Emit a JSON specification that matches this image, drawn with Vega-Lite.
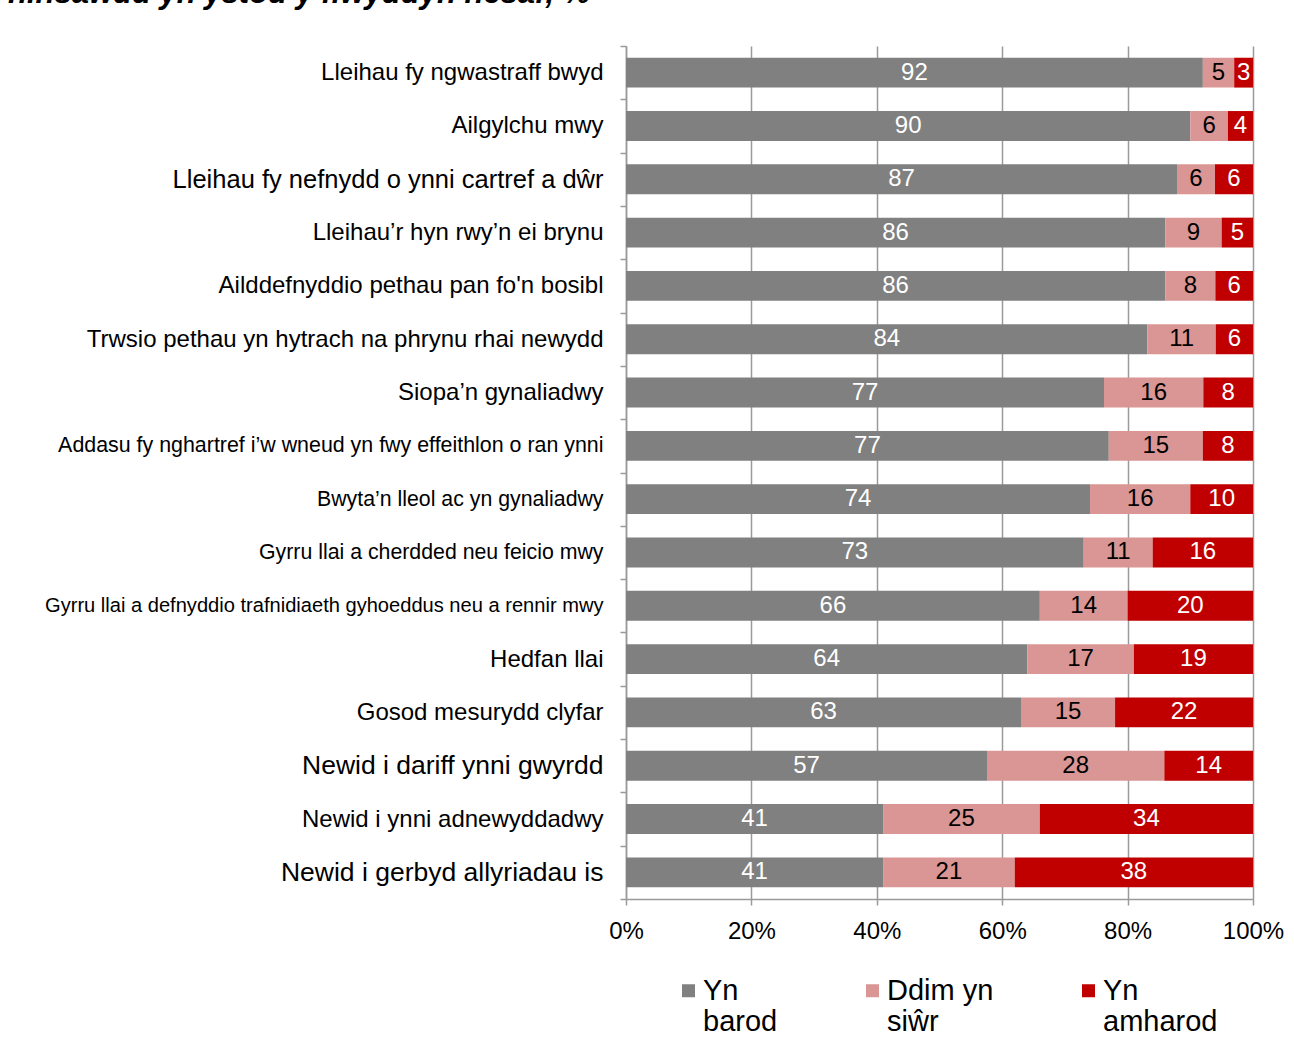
{
  "$schema": "https://vega.github.io/schema/vega-lite/v6.json",
  "width": 627,
  "height": 853,
  "autosize": {"type": "none"},
  "padding": {"left": 626, "top": 46, "right": 41, "bottom": 155},
  "background": "white",
  "title": {
    "text": "hinsawdd yn ystod y flwyddyn nesaf, %",
    "anchor": "start",
    "frame": "group",
    "dx": -618,
    "offset": 0,
    "baseline": "alphabetic",
    "fontSize": 31,
    "fontStyle": "italic",
    "fontWeight": "bold",
    "font": "Liberation Sans",
    "color": "black"
  },
  "config": {
    "font": "Liberation Sans",
    "view": {"stroke": null}
  },
  "data": {
    "values": [
      {"item": "Lleihau fy ngwastraff bwyd", "resp": "Yn barod", "k": 1, "v": 92},
      {"item": "Lleihau fy ngwastraff bwyd", "resp": "Ddim yn siŵr", "k": 2, "v": 5},
      {"item": "Lleihau fy ngwastraff bwyd", "resp": "Yn amharod", "k": 3, "v": 3},
      {"item": "Ailgylchu mwy", "resp": "Yn barod", "k": 1, "v": 90},
      {"item": "Ailgylchu mwy", "resp": "Ddim yn siŵr", "k": 2, "v": 6},
      {"item": "Ailgylchu mwy", "resp": "Yn amharod", "k": 3, "v": 4},
      {"item": "Lleihau fy nefnydd o ynni cartref a dŵr", "resp": "Yn barod", "k": 1, "v": 87},
      {"item": "Lleihau fy nefnydd o ynni cartref a dŵr", "resp": "Ddim yn siŵr", "k": 2, "v": 6},
      {"item": "Lleihau fy nefnydd o ynni cartref a dŵr", "resp": "Yn amharod", "k": 3, "v": 6},
      {"item": "Lleihau’r hyn rwy’n ei brynu", "resp": "Yn barod", "k": 1, "v": 86},
      {"item": "Lleihau’r hyn rwy’n ei brynu", "resp": "Ddim yn siŵr", "k": 2, "v": 9},
      {"item": "Lleihau’r hyn rwy’n ei brynu", "resp": "Yn amharod", "k": 3, "v": 5},
      {"item": "Ailddefnyddio pethau pan fo'n bosibl", "resp": "Yn barod", "k": 1, "v": 86},
      {"item": "Ailddefnyddio pethau pan fo'n bosibl", "resp": "Ddim yn siŵr", "k": 2, "v": 8},
      {"item": "Ailddefnyddio pethau pan fo'n bosibl", "resp": "Yn amharod", "k": 3, "v": 6},
      {"item": "Trwsio pethau yn hytrach na phrynu rhai newydd", "resp": "Yn barod", "k": 1, "v": 84},
      {"item": "Trwsio pethau yn hytrach na phrynu rhai newydd", "resp": "Ddim yn siŵr", "k": 2, "v": 11},
      {"item": "Trwsio pethau yn hytrach na phrynu rhai newydd", "resp": "Yn amharod", "k": 3, "v": 6},
      {"item": "Siopa’n gynaliadwy", "resp": "Yn barod", "k": 1, "v": 77},
      {"item": "Siopa’n gynaliadwy", "resp": "Ddim yn siŵr", "k": 2, "v": 16},
      {"item": "Siopa’n gynaliadwy", "resp": "Yn amharod", "k": 3, "v": 8},
      {"item": "Addasu fy nghartref i’w wneud yn fwy effeithlon o ran ynni", "resp": "Yn barod", "k": 1, "v": 77},
      {"item": "Addasu fy nghartref i’w wneud yn fwy effeithlon o ran ynni", "resp": "Ddim yn siŵr", "k": 2, "v": 15},
      {"item": "Addasu fy nghartref i’w wneud yn fwy effeithlon o ran ynni", "resp": "Yn amharod", "k": 3, "v": 8},
      {"item": "Bwyta’n lleol ac yn gynaliadwy", "resp": "Yn barod", "k": 1, "v": 74},
      {"item": "Bwyta’n lleol ac yn gynaliadwy", "resp": "Ddim yn siŵr", "k": 2, "v": 16},
      {"item": "Bwyta’n lleol ac yn gynaliadwy", "resp": "Yn amharod", "k": 3, "v": 10},
      {"item": "Gyrru llai a cherdded neu feicio mwy", "resp": "Yn barod", "k": 1, "v": 73},
      {"item": "Gyrru llai a cherdded neu feicio mwy", "resp": "Ddim yn siŵr", "k": 2, "v": 11},
      {"item": "Gyrru llai a cherdded neu feicio mwy", "resp": "Yn amharod", "k": 3, "v": 16},
      {"item": "Gyrru llai a defnyddio trafnidiaeth gyhoeddus neu a rennir mwy", "resp": "Yn barod", "k": 1, "v": 66},
      {"item": "Gyrru llai a defnyddio trafnidiaeth gyhoeddus neu a rennir mwy", "resp": "Ddim yn siŵr", "k": 2, "v": 14},
      {"item": "Gyrru llai a defnyddio trafnidiaeth gyhoeddus neu a rennir mwy", "resp": "Yn amharod", "k": 3, "v": 20},
      {"item": "Hedfan llai", "resp": "Yn barod", "k": 1, "v": 64},
      {"item": "Hedfan llai", "resp": "Ddim yn siŵr", "k": 2, "v": 17},
      {"item": "Hedfan llai", "resp": "Yn amharod", "k": 3, "v": 19},
      {"item": "Gosod mesurydd clyfar", "resp": "Yn barod", "k": 1, "v": 63},
      {"item": "Gosod mesurydd clyfar", "resp": "Ddim yn siŵr", "k": 2, "v": 15},
      {"item": "Gosod mesurydd clyfar", "resp": "Yn amharod", "k": 3, "v": 22},
      {"item": "Newid i dariff ynni gwyrdd", "resp": "Yn barod", "k": 1, "v": 57},
      {"item": "Newid i dariff ynni gwyrdd", "resp": "Ddim yn siŵr", "k": 2, "v": 28},
      {"item": "Newid i dariff ynni gwyrdd", "resp": "Yn amharod", "k": 3, "v": 14},
      {"item": "Newid i ynni adnewyddadwy", "resp": "Yn barod", "k": 1, "v": 41},
      {"item": "Newid i ynni adnewyddadwy", "resp": "Ddim yn siŵr", "k": 2, "v": 25},
      {"item": "Newid i ynni adnewyddadwy", "resp": "Yn amharod", "k": 3, "v": 34},
      {"item": "Newid i gerbyd allyriadau is", "resp": "Yn barod", "k": 1, "v": 41},
      {"item": "Newid i gerbyd allyriadau is", "resp": "Ddim yn siŵr", "k": 2, "v": 21},
      {"item": "Newid i gerbyd allyriadau is", "resp": "Yn amharod", "k": 3, "v": 38}
    ]
  },
  "encoding": {
    "y": {
      "field": "item",
      "type": "nominal",
      "sort": null,
      "scale": {"paddingInner": 0, "paddingOuter": 0},
      "axis": {
        "title": null,
        "domain": true,
        "domainColor": "#9a9a9a",
        "domainWidth": 1.5,
        "ticks": true,
        "tickBand": "extent",
        "tickColor": "#9a9a9a",
        "tickWidth": 1.5,
        "tickSize": 6,
        "labelPadding": 17,
        "labelLimit": 800,
        "labelColor": "black",
        "labelFontSize": {"expr": "indexof(datum.label + '','Addasu')==0 ? 21.4 : (indexof(datum.label + '','Bwyta')==0 || indexof(datum.label + '','Gyrru llai a cherdded')==0) ? 21.3 : indexof(datum.label + '','Gyrru llai a defnyddio')==0 ? 20.1 : (indexof(datum.label + '','dariff')>=0 || indexof(datum.label + '','gerbyd')>=0) ? 26.5 : indexof(datum.label + '','cartref a d')>=0 ? 25.5 : 24"},
        "grid": false
      }
    }
  },
  "layer": [
    {
      "mark": {"type": "bar", "height": {"band": 0.56}},
      "encoding": {
        "x": {
          "field": "v",
          "type": "quantitative",
          "stack": "normalize",
          "scale": {"domain": [0, 1], "nice": false},
          "axis": {
            "title": null,
            "values": [0, 0.2, 0.4, 0.6, 0.8, 1],
            "format": ".0%",
            "labelFontSize": 24,
            "labelColor": "black",
            "labelPadding": 14,
            "domain": true,
            "domainColor": "#9a9a9a",
            "domainWidth": 1.5,
            "ticks": true,
            "tickColor": "#9a9a9a",
            "tickWidth": 1.5,
            "tickSize": 6,
            "grid": true,
            "gridColor": "#9a9a9a",
            "gridWidth": 1.5,
            "labelFlush": false
          }
        },
        "color": {
          "field": "resp",
          "type": "nominal",
          "scale": {
            "domain": ["Yn barod", "Ddim yn siŵr", "Yn amharod"],
            "range": ["#808080", "#D99694", "#C00000"]
          },
          "legend": {
            "title": null,
            "orient": "none",
            "direction": "horizontal",
            "legendX": 48,
            "legendY": 930,
            "symbolType": "square",
            "symbolSize": 169,
            "symbolStrokeWidth": 0,
            "labelFontSize": 29,
            "labelColor": "black",
            "labelOffset": 0,
            "labelLimit": 300,
            "columnPadding": 80,
            "padding": 0,
            "labelExpr": "datum.label == 'Yn barod' ? ['Yn', 'barod'] : datum.label == 'Yn amharod' ? ['Yn', 'amharod'] : ['Ddim yn', 'siŵr']"
          }
        },
        "order": {"field": "k", "type": "quantitative"}
      }
    },
    {
      "mark": {"type": "text", "fontSize": 24, "align": "center", "baseline": "middle"},
      "encoding": {
        "x": {
          "field": "v",
          "type": "quantitative",
          "stack": "normalize",
          "bandPosition": 0.5
        },
        "detail": {"field": "resp", "type": "nominal"},
        "order": {"field": "k", "type": "quantitative"},
        "text": {"field": "v", "type": "quantitative"},
        "color": {
          "condition": {"test": "datum.k == 2", "value": "black"},
          "value": "white"
        }
      }
    }
  ]
}
